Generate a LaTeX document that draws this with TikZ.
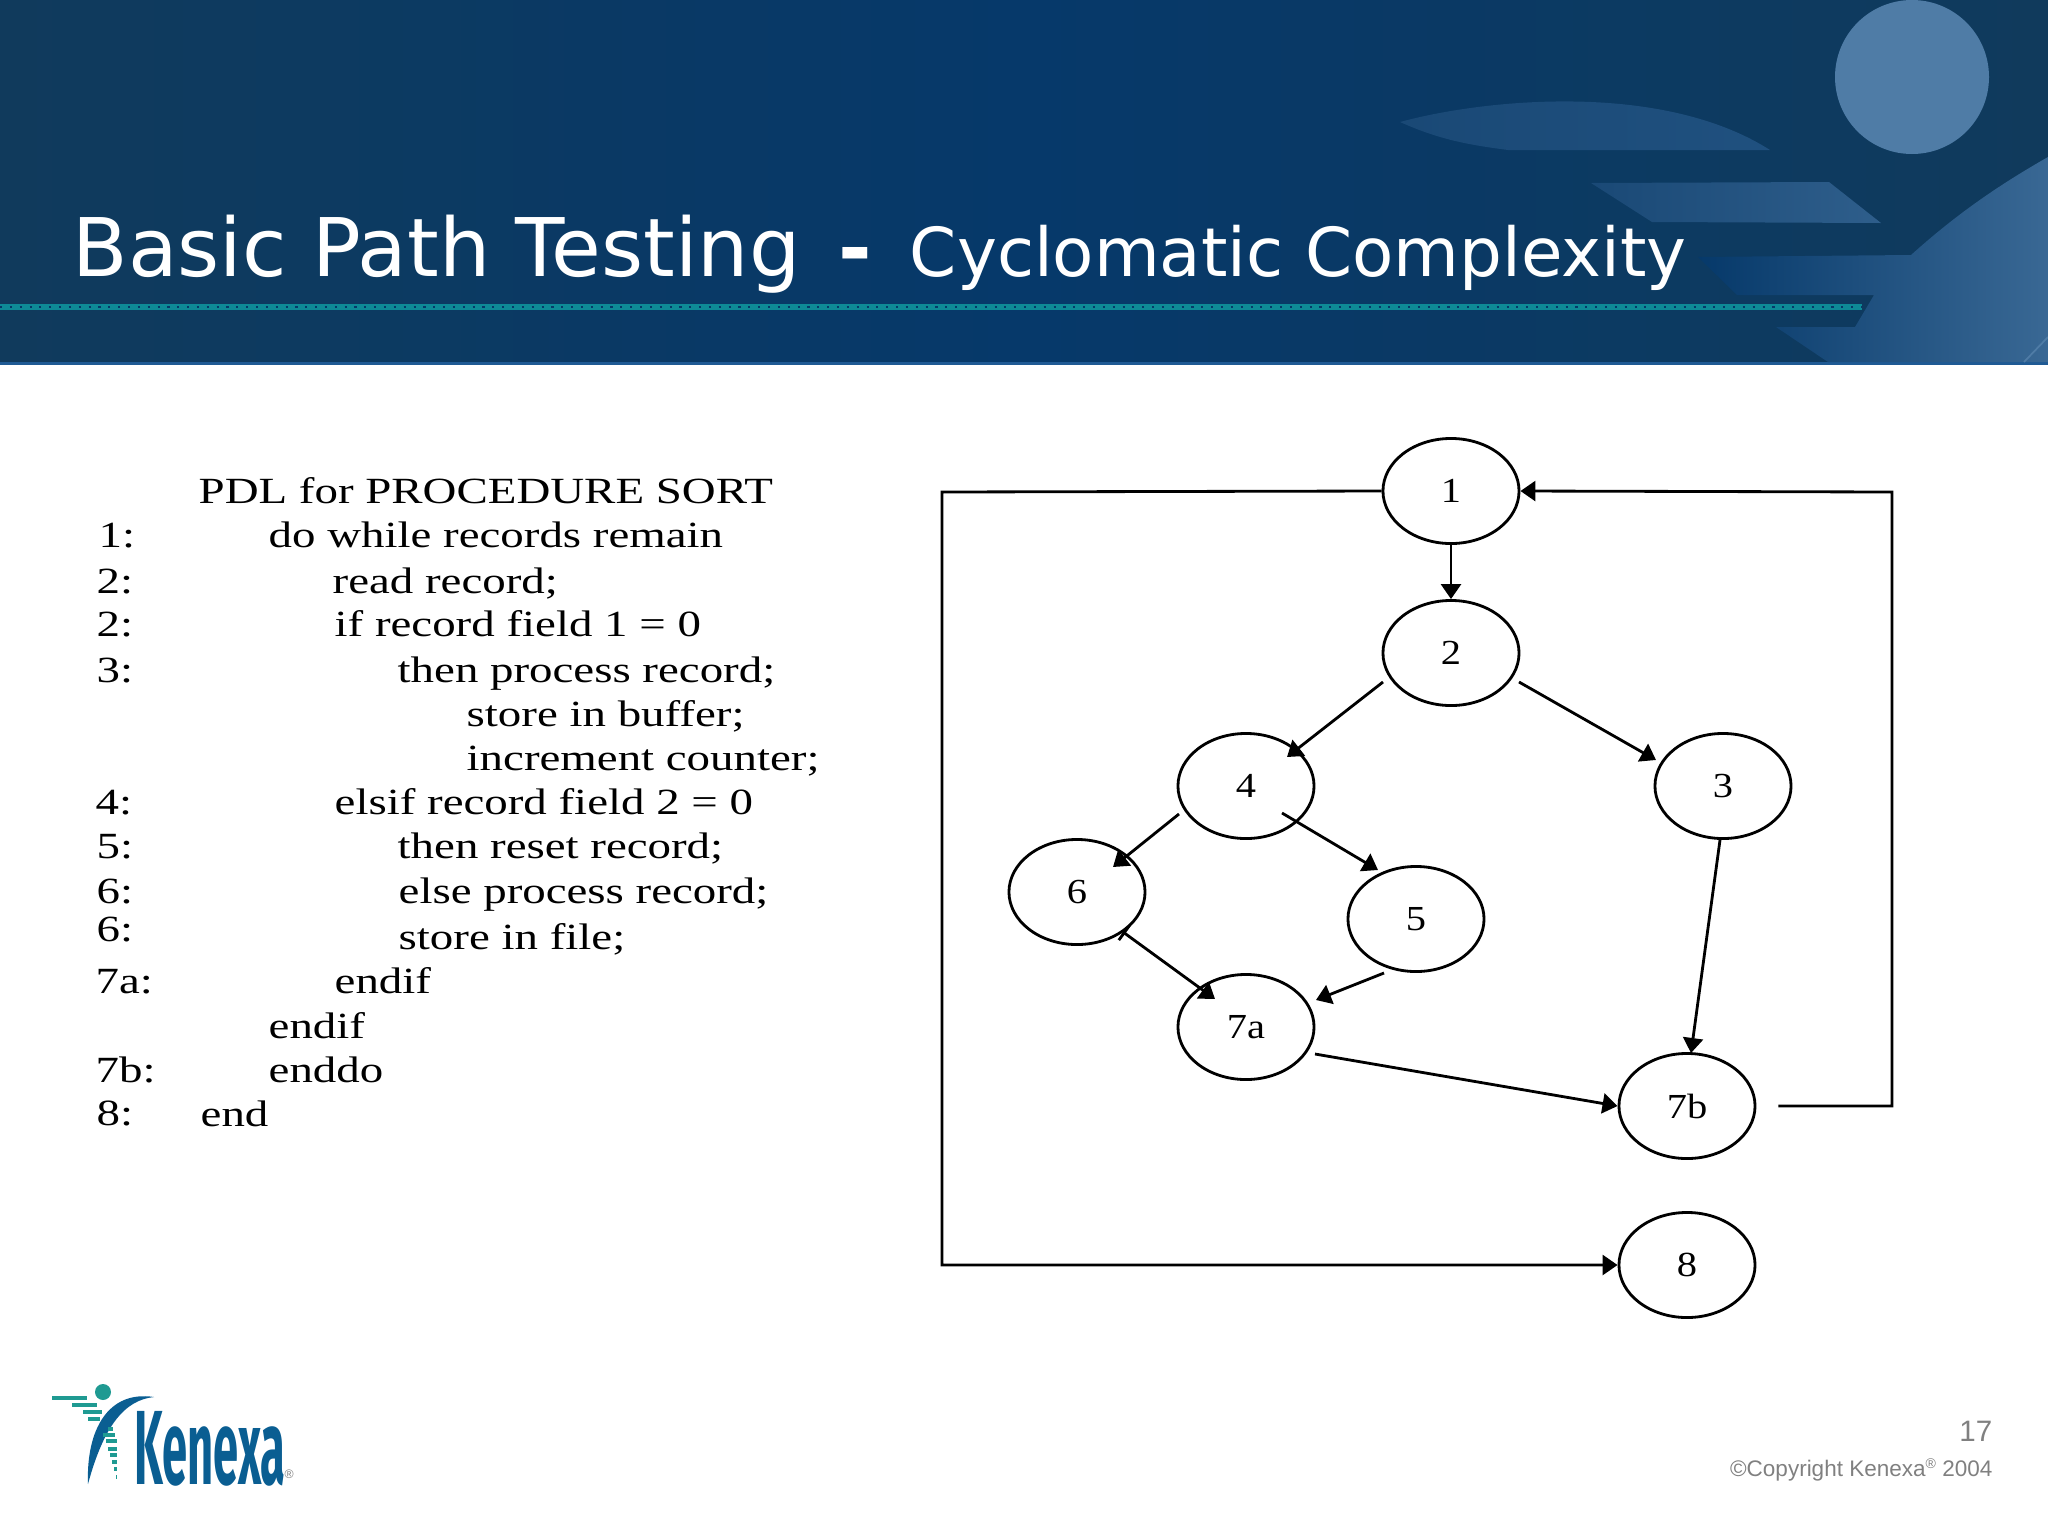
\documentclass[tikz,border=0pt]{standalone}
\usepackage{fontspec}
\setmainfont{Liberation Sans}
\newfontfamily\titlefont{DejaVu Sans}
\newfontfamily\pdlfont[FakeStretch=1.27]{Liberation Serif}
\newfontfamily\nodefont[FakeStretch=1.15]{Liberation Serif}
\newfontfamily\logofont[FakeStretch=.43]{Fira Sans}
\usetikzlibrary{shapes.geometric,arrows.meta,calc}
\definecolor{bandedge}{HTML}{103A5C}
\definecolor{bandmid}{HTML}{06396A}
\definecolor{bandline}{HTML}{1F5A94}
\definecolor{beadteal}{HTML}{0E8A96}
\definecolor{moonblue}{HTML}{4F7CA6}
\definecolor{logoblue}{HTML}{0A5E92}
\definecolor{logoteal}{HTML}{1F9A92}
\tikzset{
  flownode/.style={draw, ellipse, minimum width=1.36cm, minimum height=1.05cm, inner sep=0pt,
    line width=.8pt, font=\nodefont\fontsize{10}{12}\selectfont},
  flowedge/.style={line width=.8pt, -{Triangle[length=.15cm,width=.2cm]}},
  pdlline/.style={anchor=base west, inner sep=0pt, font=\pdlfont\fontsize{10.5}{13}\selectfont}
}
\begin{document}
\begin{tikzpicture}[x=0.01cm, y=-0.01cm]
  \useasboundingbox (0,0) rectangle (2048,1536);
  % header band
  \shade[left color=bandedge, right color=bandedge, middle color=bandmid] (0,0) rectangle (2048,364);
  \fill[bandline] (0,362) rectangle (2048,365);
  \fill[moonblue] (1912,77) circle (77);
  \shade[left color=bandmid!92!white, right color=bandmid!65!moonblue] (1400,122) .. controls (1480,100) and (1660,80) .. (1770,150) -- (1508,150) .. controls (1470,145) and (1440,140) .. cycle;
  \shade[left color=bandmid!92!white, right color=moonblue!55!bandmid] (1591,183) -- (1829,182) -- (1881,223) -- (1652,222) -- cycle;
  \shade[left color=bandmid, right color=moonblue!70!bandmid] (2048,157) .. controls (1990,190) and (1950,220) .. (1911,255) -- (1698,257) -- (1737,295) -- (1874,295) -- (1855,327) -- (1776,327) -- (1828,362) -- (2048,362) -- cycle;
  \draw[moonblue, line width=.5pt] (2024,362) -- (2048,337);
  \fill[beadteal] (0,304) rectangle (1862,310);
  \draw[bandmid, line width=.5pt, dash pattern=on .6pt off 2.2pt] (0,307) -- (1862,307);
  \node[anchor=base west, inner sep=0pt, text=white, font=\titlefont\fontsize{23}{26}\selectfont] (title) at (72,276)
    {Basic Path Testing\hspace{.38cm}\textbf{-}\hspace{.38cm}{\fontsize{19.2}{26}\selectfont Cyclomatic Complexity}};

  % PDL listing
  \foreach \x/\y/\txt [count=\i] in {
    198/503/{PDL for PROCEDURE SORT},
    268/547/{do while records remain},
    332/593/{read record;},
    334/636/{if record field 1 = 0},
    397/682/{then process record;},
    466/726/{store in buffer;},
    466/770/{increment counter;},
    334/814/{elsif record field 2 = 0},
    397/858/{then reset record;},
    398/903/{else process record;},
    398/949/{store in file;},
    334/993/{endif},
    268/1038/{endif},
    268/1082/{enddo},
    200/1126/{end}}
    \node[pdlline] (pdl\i) at (\x,\y) {\txt};
  \foreach \x/\y/\txt [count=\i] in {
    98/547/1:, 96/593/2:, 96/636/2:, 96/682/3:, 95/814/4:, 96/858/5:, 96/903/6:,
    96/941/6:, 95/993/7a:, 95/1082/7b:, 96/1125/8:}
    \node[pdlline] (tag\i) at (\x,\y) {\txt};

  % flow graph
  \node[flownode] (n1) at (1451,491) {1};
  \node[flownode] (n2) at (1451,653) {2};
  \node[flownode] (n3) at (1723,786) {3};
  \node[flownode] (n4) at (1246,786) {4};
  \node[flownode] (n5) at (1416,919) {5};
  \node[flownode] (n6) at (1077,892) {6};
  \node[flownode] (n7a) at (1246,1027) {7a};
  \node[flownode] (n7b) at (1687,1106) {7b};
  \node[flownode] (n8) at (1687,1265) {8};
  \coordinate (rtop) at (1892,492);
  \coordinate (ltop) at (942,492);
  \draw[flowedge] (n1.south) -- (n2.north);
  \draw[flowedge] ($(n2)+(-68,29)$) -- ($(n4)+(41,-29)$);
  \draw[flowedge] ($(n2)+(68,29)$) -- ($(n3)+(-67,-26)$);
  \draw[flowedge] ($(n4)+(-67,28)$) -- ($(n6)+(36,-25)$);
  \draw[flowedge] ($(n4)+(36,27)$) -- ($(n5)+(-38,-49)$);
  \draw[line width=.8pt, {Bar[width=.18cm,length=0pt]}-{Triangle[length=.15cm,width=.2cm]}] ($(n6)+(46,40)$) -- ($(n7a)+(-31,-28)$);
  \draw[flowedge] ($(n5)+(-32,54)$) -- ($(n7a)+(70,-27)$);
  \draw[flowedge] ($(n3)+(-3,54)$) -- ($(n7b)+(4,-53)$);
  \draw[flowedge] ($(n7a)+(69,27)$) -- (n7b.west);
  \draw[flowedge, shorten <=.22cm] (n7b.east) -| (rtop) -- (n1.east);
  \draw[flowedge] (n1.west) -- (ltop) |- (n8.west);

  % logo
  \fill[logoteal] (103,1392) circle (8);
  \fill[logoblue] (88,1484) .. controls (86,1430) and (108,1390) .. (154,1397) .. controls (125,1400) and (104,1425) .. cycle;
  \foreach \xa/\xb/\y in {52/87/1396, 72/97/1403, 83/102/1410, 88/100/1417, 108/113/1427, 103/115/1433,
    106/117/1439, 108/117/1447, 110/117/1453, 112/117/1460, 114/117/1467, 116/117/1475}
    \fill[logoteal] (\xa,\y) rectangle (\xb,\y+3.5);
  \node[anchor=base west, inner sep=0pt, text=logoblue, font=\logofont\bfseries\fontsize{30}{32}\selectfont] (logo) at (134,1484) {Kenexa};
  \node[anchor=base west, inner sep=0pt, text=gray, font=\fontsize{3.5}{4}\selectfont] (logomark) at (284,1478) {®};

  % footer
  \node[anchor=base east, inner sep=0pt, text=gray, font=\fontsize{8.4}{10}\selectfont] (pagenum) at (1993,1441) {17};
  \node[anchor=base east, inner sep=0pt, text=gray, font=\fontsize{6.4}{8}\selectfont] (copyright) at (1993,1476)
    {©Copyright Kenexa{\fontsize{4}{4}\selectfont\raisebox{.08cm}{®}} 2004};
\end{tikzpicture}
\end{document}
